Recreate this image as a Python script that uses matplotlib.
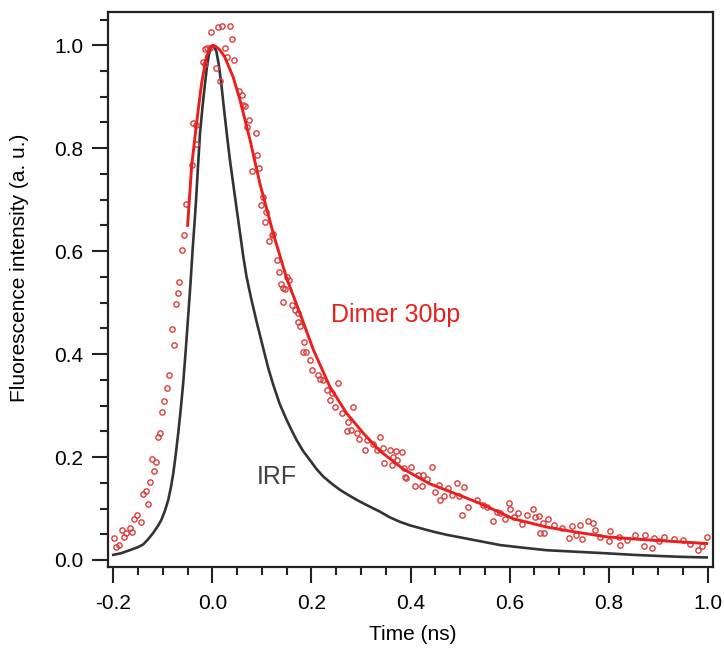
import matplotlib
matplotlib.use('Agg')
import matplotlib.pyplot as plt
from matplotlib.ticker import MultipleLocator, FormatStrFormatter

plt.rcParams['font.family'] = ['Liberation Sans', 'DejaVu Sans']
plt.rcParams['axes.unicode_minus'] = False

# IRF (instrument response)
irf_t = [-0.200, -0.185, -0.167, -0.150, -0.140, -0.130, -0.120, -0.110, -0.103, -0.096,
         -0.089, -0.084, -0.079, -0.074, -0.069, -0.064, -0.059, -0.054, -0.049, -0.044,
         -0.040, -0.036, -0.033, -0.029, -0.025, -0.020, -0.015, -0.011, -0.007, -0.003,
         0.000, 0.004, 0.008, 0.013, 0.018, 0.023, 0.029, 0.035, 0.042, 0.049,
         0.056, 0.062, 0.069, 0.079, 0.090, 0.103, 0.113, 0.123, 0.136, 0.150,
         0.160, 0.170, 0.183, 0.197, 0.210, 0.224, 0.240, 0.258, 0.275, 0.291,
         0.315, 0.338, 0.358, 0.379, 0.400, 0.419, 0.446, 0.473, 0.500, 0.527,
         0.554, 0.581, 0.608, 0.636, 0.675, 0.735, 0.796, 0.850, 0.897, 0.950,
         0.998]
irf_i = [0.010, 0.013, 0.019, 0.025, 0.030, 0.040, 0.052, 0.066, 0.078, 0.095,
         0.117, 0.140, 0.168, 0.205, 0.246, 0.292, 0.343, 0.405, 0.472, 0.540,
         0.602, 0.655, 0.699, 0.765, 0.829, 0.880, 0.925, 0.958, 0.982, 0.996,
         1.000, 0.997, 0.988, 0.962, 0.925, 0.880, 0.829, 0.780, 0.731, 0.682,
         0.634, 0.592, 0.550, 0.505, 0.460, 0.410, 0.372, 0.340, 0.303, 0.272,
         0.252, 0.233, 0.212, 0.194, 0.177, 0.162, 0.149, 0.136, 0.126, 0.117,
         0.105, 0.094, 0.083, 0.074, 0.067, 0.062, 0.055, 0.049, 0.044, 0.039,
         0.034, 0.029, 0.026, 0.023, 0.019, 0.016, 0.013, 0.010, 0.008, 0.006,
         0.005]

# fit curve for the dimer
fit_t = [-0.050, -0.042, -0.032, -0.022, -0.012, -0.004, 0.002, 0.008, 0.016, 0.025,
         0.042, 0.056, 0.076, 0.096, 0.123, 0.150, 0.177, 0.204, 0.237, 0.271,
         0.305, 0.338, 0.385, 0.439, 0.493, 0.540, 0.608, 0.675, 0.729, 0.796,
         0.864, 0.931, 0.998]
fit_i = [0.650, 0.764, 0.848, 0.925, 0.978, 0.996, 1.000, 0.997, 0.990, 0.977,
         0.938, 0.893, 0.816, 0.731, 0.634, 0.547, 0.479, 0.408, 0.337, 0.285,
         0.246, 0.212, 0.177, 0.148, 0.128, 0.110, 0.080, 0.064, 0.055, 0.045,
         0.040, 0.036, 0.032]

# measured dimer points
dim_t = [-0.198, -0.194, -0.189, -0.182, -0.179, -0.175, -0.167, -0.162, -0.158, -0.153,
         -0.145, -0.141, -0.135, -0.129, -0.125, -0.121, -0.118, -0.113, -0.109, -0.106,
         -0.101, -0.097, -0.092, -0.088, -0.082, -0.078, -0.074, -0.070, -0.067, -0.062,
         -0.058, -0.054, -0.042, -0.039, -0.033, -0.033, -0.018, -0.015, -0.014, -0.010,
         -0.005, -0.002, 0.008, 0.012, 0.015, 0.020, 0.025, 0.030, 0.035, 0.039,
         0.043, 0.054, 0.059, 0.062, 0.066, 0.069, 0.074, 0.079, 0.088, 0.091,
         0.095, 0.099, 0.103, 0.106, 0.109, 0.115, 0.120, 0.123, 0.130, 0.135,
         0.138, 0.142, 0.143, 0.146, 0.150, 0.155, 0.160, 0.167, 0.173, 0.173,
         0.177, 0.182, 0.184, 0.190, 0.197, 0.202, 0.214, 0.217, 0.224, 0.231,
         0.237, 0.241, 0.247, 0.254, 0.261, 0.271, 0.274, 0.279, 0.283, 0.291,
         0.295, 0.308, 0.312, 0.325, 0.332, 0.338, 0.344, 0.347, 0.359, 0.362,
         0.364, 0.370, 0.372, 0.382, 0.387, 0.389, 0.391, 0.402, 0.410, 0.416,
         0.423, 0.426, 0.433, 0.443, 0.449, 0.458, 0.460, 0.467, 0.476, 0.483,
         0.493, 0.498, 0.504, 0.507, 0.517, 0.534, 0.547, 0.555, 0.567, 0.574,
         0.581, 0.591, 0.598, 0.601, 0.608, 0.618, 0.625, 0.636, 0.647, 0.652,
         0.660, 0.662, 0.668, 0.670, 0.678, 0.690, 0.706, 0.720, 0.727, 0.735,
         0.743, 0.746, 0.759, 0.768, 0.773, 0.783, 0.800, 0.803, 0.820, 0.823,
         0.837, 0.854, 0.871, 0.874, 0.887, 0.891, 0.901, 0.911, 0.931, 0.951,
         0.965, 0.981, 0.988, 0.998]
dim_i = [0.043, 0.025, 0.029, 0.058, 0.044, 0.052, 0.063, 0.055, 0.079, 0.087,
         0.074, 0.129, 0.135, 0.109, 0.152, 0.197, 0.173, 0.191, 0.238, 0.247,
         0.288, 0.308, 0.335, 0.359, 0.449, 0.417, 0.497, 0.518, 0.540, 0.603,
         0.631, 0.691, 0.767, 0.848, 0.845, 0.809, 0.968, 0.964, 0.992, 0.994,
         0.994, 1.025, 0.955, 1.036, 0.930, 1.038, 0.994, 0.977, 1.038, 1.013,
         0.972, 0.911, 0.903, 0.883, 0.882, 0.841, 0.854, 0.756, 0.829, 0.786,
         0.761, 0.689, 0.706, 0.657, 0.676, 0.620, 0.631, 0.634, 0.583, 0.560,
         0.536, 0.502, 0.528, 0.526, 0.550, 0.544, 0.495, 0.485, 0.480, 0.463,
         0.454, 0.405, 0.424, 0.405, 0.388, 0.369, 0.359, 0.351, 0.350, 0.330,
         0.311, 0.324, 0.298, 0.343, 0.285, 0.251, 0.269, 0.252, 0.298, 0.246,
         0.236, 0.214, 0.233, 0.225, 0.214, 0.239, 0.217, 0.188, 0.214, 0.184,
         0.201, 0.212, 0.194, 0.210, 0.178, 0.162, 0.159, 0.180, 0.144, 0.165,
         0.144, 0.165, 0.157, 0.180, 0.133, 0.146, 0.117, 0.124, 0.139, 0.126,
         0.149, 0.124, 0.087, 0.141, 0.103, 0.117, 0.107, 0.103, 0.076, 0.094,
         0.091, 0.079, 0.110, 0.100, 0.083, 0.091, 0.070, 0.087, 0.100, 0.084,
         0.085, 0.052, 0.071, 0.053, 0.079, 0.068, 0.062, 0.042, 0.066, 0.049,
         0.068, 0.040, 0.076, 0.072, 0.058, 0.045, 0.037, 0.057, 0.045, 0.029,
         0.039, 0.049, 0.027, 0.049, 0.023, 0.042, 0.036, 0.045, 0.040, 0.039,
         0.032, 0.019, 0.027, 0.045]

red = '#e8201e'
fig = plt.figure(figsize=(7.24, 6.48), dpi=100)
ax = fig.add_axes([0.149, 0.125, 0.836, 0.856])

ax.plot(irf_t, irf_i, color='#333333', lw=1.9, zorder=2)
ax.plot(dim_t, dim_i, 'o', ms=3.8, mfc='none', mec='#dd3c3c', mew=1.0, zorder=3)
ax.plot(fit_t, fit_i, color=red, lw=2.1, zorder=4)

ax.text(0.37, 0.476, 'Dimer 30bp', color=red, fontsize=18, ha='center', va='center')
ax.text(0.131, 0.161, 'IRF', color='#404040', fontsize=18, ha='center', va='center')

ax.set_xlim(-0.211, 1.011)
ax.set_ylim(-0.0136, 1.064)

ax.xaxis.set_major_locator(MultipleLocator(0.2))
ax.xaxis.set_minor_locator(MultipleLocator(0.05))
ax.yaxis.set_major_locator(MultipleLocator(0.2))
ax.yaxis.set_minor_locator(MultipleLocator(0.05))
ax.xaxis.set_major_formatter(FormatStrFormatter('%.1f'))
ax.yaxis.set_major_formatter(FormatStrFormatter('%.1f'))

ax.tick_params(which='both', direction='out', top=False, right=False, width=1.5, color='#222222')
ax.tick_params(which='major', length=11.5, labelsize=15)
ax.tick_params(which='minor', length=5.8)
ax.tick_params(axis='x', which='major', pad=8)
ax.tick_params(axis='y', which='major', pad=6)
for s in ax.spines.values():
    s.set_linewidth(1.6)
    s.set_color('#222222')

ax.set_xlabel('Time (ns)', fontsize=15)
ax.set_ylabel('Fluorescence intensity (a. u.)', fontsize=15)
ax.xaxis.set_label_coords(0.504, -0.105)
ax.yaxis.set_label_coords(-0.13, 0.54)

plt.savefig('out.png', dpi=100)
